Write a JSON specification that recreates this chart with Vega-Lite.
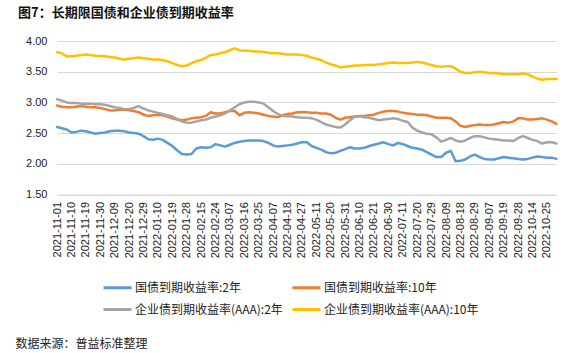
{
  "$schema": "https://vega.github.io/schema/vega-lite/v6.json",
  "width": 499.5,
  "height": 153.5,
  "autosize": {"type": "none"},
  "padding": {"left": 57, "top": 41, "right": 31.5, "bottom": 158.5},
  "background": "white",
  "title": {
    "text": "图7：长期限国债和企业债到期收益率",
    "anchor": "start",
    "frame": "group",
    "dx": -39,
    "offset": 15,
    "font": "Noto Sans CJK SC",
    "fontSize": 13,
    "fontWeight": "bold",
    "color": "#111"
  },
  "config": {
    "view": {"stroke": null},
    "font": "Liberation Sans"
  },
  "data": {
    "values": [
      {"date": "2021-11-01", "国债到期收益率:2年": 2.60, "国债到期收益率:10年": 2.95, "企业债到期收益率(AAA):2年": 3.05, "企业债到期收益率(AAA):10年": 3.82},
      {"date": "2021-11-03", "国债到期收益率:2年": 2.58, "国债到期收益率:10年": 2.93, "企业债到期收益率(AAA):2年": 3.03, "企业债到期收益率(AAA):10年": 3.80},
      {"date": "2021-11-08", "国债到期收益率:2年": 2.56, "国债到期收益率:10年": 2.92, "企业债到期收益率(AAA):2年": 3.00, "企业债到期收益率(AAA):10年": 3.75},
      {"date": "2021-11-10", "国债到期收益率:2年": 2.51, "国债到期收益率:10年": 2.92, "企业债到期收益率(AAA):2年": 2.99, "企业债到期收益率(AAA):10年": 3.75},
      {"date": "2021-11-12", "国债到期收益率:2年": 2.52, "国债到期收益率:10年": 2.93, "企业债到期收益率(AAA):2年": 2.99, "企业债到期收益率(AAA):10年": 3.76},
      {"date": "2021-11-17", "国债到期收益率:2年": 2.54, "国债到期收益率:10年": 2.94, "企业债到期收益率(AAA):2年": 2.98, "企业债到期收益率(AAA):10年": 3.77},
      {"date": "2021-11-19", "国债到期收益率:2年": 2.53, "国债到期收益率:10年": 2.93, "企业债到期收益率(AAA):2年": 2.98, "企业债到期收益率(AAA):10年": 3.78},
      {"date": "2021-11-23", "国债到期收益率:2年": 2.51, "国债到期收益率:10年": 2.92, "企业债到期收益率(AAA):2年": 2.98, "企业债到期收益率(AAA):10年": 3.77},
      {"date": "2021-11-26", "国债到期收益率:2年": 2.49, "国债到期收益率:10年": 2.92, "企业债到期收益率(AAA):2年": 2.97, "企业债到期收益率(AAA):10年": 3.76},
      {"date": "2021-11-30", "国债到期收益率:2年": 2.50, "国债到期收益率:10年": 2.91, "企业债到期收益率(AAA):2年": 2.97, "企业债到期收益率(AAA):10年": 3.755},
      {"date": "2021-12-02", "国债到期收益率:2年": 2.51, "国债到期收益率:10年": 2.89, "企业债到期收益率(AAA):2年": 2.96, "企业债到期收益率(AAA):10年": 3.75},
      {"date": "2021-12-07", "国债到期收益率:2年": 2.53, "国债到期收益率:10年": 2.87, "企业债到期收益率(AAA):2年": 2.94, "企业债到期收益率(AAA):10年": 3.74},
      {"date": "2021-12-09", "国债到期收益率:2年": 2.54, "国债到期收益率:10年": 2.87, "企业债到期收益率(AAA):2年": 2.92, "企业债到期收益率(AAA):10年": 3.73},
      {"date": "2021-12-13", "国债到期收益率:2年": 2.54, "国债到期收益率:10年": 2.88, "企业债到期收益率(AAA):2年": 2.91, "企业债到期收益率(AAA):10年": 3.71},
      {"date": "2021-12-16", "国债到期收益率:2年": 2.53, "国债到期收益率:10年": 2.88, "企业债到期收益率(AAA):2年": 2.89, "企业债到期收益率(AAA):10年": 3.70},
      {"date": "2021-12-20", "国债到期收益率:2年": 2.51, "国债到期收益率:10年": 2.87, "企业债到期收益率(AAA):2年": 2.89, "企业债到期收益率(AAA):10年": 3.71},
      {"date": "2021-12-22", "国债到期收益率:2年": 2.50, "国债到期收益率:10年": 2.86, "企业债到期收益率(AAA):2年": 2.91, "企业债到期收益率(AAA):10年": 3.72},
      {"date": "2021-12-27", "国债到期收益率:2年": 2.49, "国债到期收益率:10年": 2.84, "企业债到期收益率(AAA):2年": 2.94, "企业债到期收益率(AAA):10年": 3.73},
      {"date": "2021-12-29", "国债到期收益率:2年": 2.45, "国债到期收益率:10年": 2.80, "企业债到期收益率(AAA):2年": 2.90, "企业债到期收益率(AAA):10年": 3.72},
      {"date": "2021-12-31", "国债到期收益率:2年": 2.40, "国债到期收益率:10年": 2.78, "企业债到期收益率(AAA):2年": 2.87, "企业债到期收益率(AAA):10年": 3.71},
      {"date": "2022-01-06", "国债到期收益率:2年": 2.39, "国债到期收益率:10年": 2.79, "企业债到期收益率(AAA):2年": 2.85, "企业债到期收益率(AAA):10年": 3.70},
      {"date": "2022-01-10", "国债到期收益率:2年": 2.41, "国债到期收益率:10年": 2.80, "企业债到期收益率(AAA):2年": 2.83, "企业债到期收益率(AAA):10年": 3.70},
      {"date": "2022-01-12", "国债到期收益率:2年": 2.39, "国债到期收益率:10年": 2.79, "企业债到期收益率(AAA):2年": 2.81, "企业债到期收益率(AAA):10年": 3.69},
      {"date": "2022-01-17", "国债到期收益率:2年": 2.34, "国债到期收益率:10年": 2.77, "企业债到期收益率(AAA):2年": 2.79, "企业债到期收益率(AAA):10年": 3.67},
      {"date": "2022-01-19", "国债到期收益率:2年": 2.29, "国债到期收益率:10年": 2.74, "企业债到期收益率(AAA):2年": 2.77, "企业债到期收益率(AAA):10年": 3.64},
      {"date": "2022-01-21", "国债到期收益率:2年": 2.22, "国债到期收益率:10年": 2.72, "企业债到期收益率(AAA):2年": 2.73, "企业债到期收益率(AAA):10年": 3.61},
      {"date": "2022-01-26", "国债到期收益率:2年": 2.16, "国债到期收益率:10年": 2.71, "企业债到期收益率(AAA):2年": 2.69, "企业债到期收益率(AAA):10年": 3.59},
      {"date": "2022-01-28", "国债到期收益率:2年": 2.15, "国债到期收益率:10年": 2.72, "企业债到期收益率(AAA):2年": 2.67, "企业债到期收益率(AAA):10年": 3.60},
      {"date": "2022-02-08", "国债到期收益率:2年": 2.16, "国债到期收益率:10年": 2.74, "企业债到期收益率(AAA):2年": 2.67, "企业债到期收益率(AAA):10年": 3.64},
      {"date": "2022-02-11", "国债到期收益率:2年": 2.25, "国债到期收益率:10年": 2.75, "企业债到期收益率(AAA):2年": 2.69, "企业债到期收益率(AAA):10年": 3.67},
      {"date": "2022-02-15", "国债到期收益率:2年": 2.27, "国债到期收益率:10年": 2.76, "企业债到期收益率(AAA):2年": 2.71, "企业债到期收益率(AAA):10年": 3.69},
      {"date": "2022-02-17", "国债到期收益率:2年": 2.26, "国债到期收益率:10年": 2.78, "企业债到期收益率(AAA):2年": 2.72, "企业债到期收益率(AAA):10年": 3.73},
      {"date": "2022-02-22", "国债到期收益率:2年": 2.27, "国债到期收益率:10年": 2.84, "企业债到期收益率(AAA):2年": 2.75, "企业债到期收益率(AAA):10年": 3.77},
      {"date": "2022-02-24", "国债到期收益率:2年": 2.32, "国债到期收益率:10年": 2.82, "企业债到期收益率(AAA):2年": 2.77, "企业债到期收益率(AAA):10年": 3.78},
      {"date": "2022-02-28", "国债到期收益率:2年": 2.30, "国债到期收益率:10年": 2.82, "企业债到期收益率(AAA):2年": 2.79, "企业债到期收益率(AAA):10年": 3.80},
      {"date": "2022-03-03", "国债到期收益率:2年": 2.28, "国债到期收益率:10年": 2.84, "企业债到期收益率(AAA):2年": 2.82, "企业债到期收益率(AAA):10年": 3.82},
      {"date": "2022-03-07", "国债到期收益率:2年": 2.31, "国债到期收益率:10年": 2.86, "企业债到期收益率(AAA):2年": 2.87, "企业债到期收益率(AAA):10年": 3.85},
      {"date": "2022-03-09", "国债到期收益率:2年": 2.34, "国债到期收益率:10年": 2.86, "企业债到期收益率(AAA):2年": 2.92, "企业债到期收益率(AAA):10年": 3.88},
      {"date": "2022-03-14", "国债到期收益率:2年": 2.36, "国债到期收益率:10年": 2.79, "企业债到期收益率(AAA):2年": 2.97, "企业债到期收益率(AAA):10年": 3.85},
      {"date": "2022-03-16", "国债到期收益率:2年": 2.37, "国债到期收益率:10年": 2.83, "企业债到期收益率(AAA):2年": 3.00, "企业债到期收益率(AAA):10年": 3.84},
      {"date": "2022-03-18", "国债到期收益率:2年": 2.38, "国债到期收益率:10年": 2.84, "企业债到期收益率(AAA):2年": 3.01, "企业债到期收益率(AAA):10年": 3.84},
      {"date": "2022-03-23", "国债到期收益率:2年": 2.38, "国债到期收益率:10年": 2.83, "企业债到期收益率(AAA):2年": 3.01, "企业债到期收益率(AAA):10年": 3.83},
      {"date": "2022-03-25", "国债到期收益率:2年": 2.38, "国债到期收益率:10年": 2.82, "企业债到期收益率(AAA):2年": 3.00, "企业债到期收益率(AAA):10年": 3.83},
      {"date": "2022-03-29", "国债到期收益率:2年": 2.37, "国债到期收益率:10年": 2.80, "企业债到期收益率(AAA):2年": 2.98, "企业债到期收益率(AAA):10年": 3.82},
      {"date": "2022-04-01", "国债到期收益率:2年": 2.34, "国债到期收益率:10年": 2.78, "企业债到期收益率(AAA):2年": 2.92, "企业债到期收益率(AAA):10年": 3.81},
      {"date": "2022-04-07", "国债到期收益率:2年": 2.30, "国债到期收益率:10年": 2.77, "企业债到期收益率(AAA):2年": 2.86, "企业债到期收益率(AAA):10年": 3.80},
      {"date": "2022-04-11", "国债到期收益率:2年": 2.28, "国债到期收益率:10年": 2.76, "企业债到期收益率(AAA):2年": 2.81, "企业债到期收益率(AAA):10年": 3.80},
      {"date": "2022-04-14", "国债到期收益率:2年": 2.29, "国债到期收益率:10年": 2.79, "企业债到期收益率(AAA):2年": 2.78, "企业债到期收益率(AAA):10年": 3.79},
      {"date": "2022-04-18", "国债到期收益率:2年": 2.30, "国债到期收益率:10年": 2.81, "企业债到期收益率(AAA):2年": 2.775, "企业债到期收益率(AAA):10年": 3.78},
      {"date": "2022-04-20", "国债到期收益率:2年": 2.31, "国债到期收益率:10年": 2.82, "企业债到期收益率(AAA):2年": 2.77, "企业债到期收益率(AAA):10年": 3.78},
      {"date": "2022-04-25", "国债到期收益率:2年": 2.33, "国债到期收益率:10年": 2.84, "企业债到期收益率(AAA):2年": 2.76, "企业债到期收益率(AAA):10年": 3.78},
      {"date": "2022-04-27", "国债到期收益率:2年": 2.35, "国债到期收益率:10年": 2.845, "企业债到期收益率(AAA):2年": 2.75, "企业债到期收益率(AAA):10年": 3.77},
      {"date": "2022-04-29", "国债到期收益率:2年": 2.35, "国债到期收益率:10年": 2.84, "企业债到期收益率(AAA):2年": 2.75, "企业债到期收益率(AAA):10年": 3.76},
      {"date": "2022-05-09", "国债到期收益率:2年": 2.29, "国债到期收益率:10年": 2.83, "企业债到期收益率(AAA):2年": 2.74, "企业债到期收益率(AAA):10年": 3.73},
      {"date": "2022-05-11", "国债到期收益率:2年": 2.26, "国债到期收益率:10年": 2.83, "企业债到期收益率(AAA):2年": 2.72, "企业债到期收益率(AAA):10年": 3.71},
      {"date": "2022-05-13", "国债到期收益率:2年": 2.23, "国债到期收益率:10年": 2.82, "企业债到期收益率(AAA):2年": 2.68, "企业债到期收益率(AAA):10年": 3.69},
      {"date": "2022-05-18", "国债到期收益率:2年": 2.19, "国债到期收益率:10年": 2.82, "企业债到期收益率(AAA):2年": 2.64, "企业债到期收益率(AAA):10年": 3.65},
      {"date": "2022-05-20", "国债到期收益率:2年": 2.17, "国债到期收益率:10年": 2.80, "企业债到期收益率(AAA):2年": 2.62, "企业债到期收益率(AAA):10年": 3.62},
      {"date": "2022-05-24", "国债到期收益率:2年": 2.18, "国债到期收益率:10年": 2.75, "企业债到期收益率(AAA):2年": 2.60, "企业债到期收益率(AAA):10年": 3.60},
      {"date": "2022-05-27", "国债到期收益率:2年": 2.21, "国债到期收益率:10年": 2.72, "企业债到期收益率(AAA):2年": 2.59, "企业债到期收益率(AAA):10年": 3.57},
      {"date": "2022-05-31", "国债到期收益率:2年": 2.24, "国债到期收益率:10年": 2.75, "企业债到期收益率(AAA):2年": 2.64, "企业债到期收益率(AAA):10年": 3.58},
      {"date": "2022-06-02", "国债到期收益率:2年": 2.27, "国债到期收益率:10年": 2.76, "企业债到期收益率(AAA):2年": 2.71, "企业债到期收益率(AAA):10年": 3.59},
      {"date": "2022-06-08", "国债到期收益率:2年": 2.25, "国债到期收益率:10年": 2.77, "企业债到期收益率(AAA):2年": 2.77, "企业债到期收益率(AAA):10年": 3.60},
      {"date": "2022-06-10", "国债到期收益率:2年": 2.25, "国债到期收益率:10年": 2.78, "企业债到期收益率(AAA):2年": 2.77, "企业债到期收益率(AAA):10年": 3.60},
      {"date": "2022-06-14", "国债到期收益率:2年": 2.26, "国债到期收益率:10年": 2.78, "企业债到期收益率(AAA):2年": 2.76, "企业债到期收益率(AAA):10年": 3.61},
      {"date": "2022-06-17", "国债到期收益率:2年": 2.29, "国债到期收益率:10年": 2.79, "企业债到期收益率(AAA):2年": 2.75, "企业债到期收益率(AAA):10年": 3.61},
      {"date": "2022-06-21", "国债到期收益率:2年": 2.31, "国债到期收益率:10年": 2.80, "企业债到期收益率(AAA):2年": 2.73, "企业债到期收益率(AAA):10年": 3.61},
      {"date": "2022-06-23", "国债到期收益率:2年": 2.33, "国债到期收益率:10年": 2.83, "企业债到期收益率(AAA):2年": 2.71, "企业债到期收益率(AAA):10年": 3.62},
      {"date": "2022-06-28", "国债到期收益率:2年": 2.35, "国债到期收益率:10年": 2.85, "企业债到期收益率(AAA):2年": 2.72, "企业债到期收益率(AAA):10年": 3.63},
      {"date": "2022-06-30", "国债到期收益率:2年": 2.32, "国债到期收益率:10年": 2.86, "企业债到期收益率(AAA):2年": 2.73, "企业债到期收益率(AAA):10年": 3.64},
      {"date": "2022-07-04", "国债到期收益率:2年": 2.30, "国债到期收益率:10年": 2.86, "企业债到期收益率(AAA):2年": 2.74, "企业债到期收益率(AAA):10年": 3.65},
      {"date": "2022-07-07", "国债到期收益率:2年": 2.34, "国债到期收益率:10年": 2.85, "企业债到期收益率(AAA):2年": 2.73, "企业债到期收益率(AAA):10年": 3.64},
      {"date": "2022-07-11", "国债到期收益率:2年": 2.32, "国债到期收益率:10年": 2.83, "企业债到期收益率(AAA):2年": 2.70, "企业债到期收益率(AAA):10年": 3.64},
      {"date": "2022-07-13", "国债到期收益率:2年": 2.29, "国债到期收益率:10年": 2.82, "企业债到期收益率(AAA):2年": 2.68, "企业债到期收益率(AAA):10年": 3.64},
      {"date": "2022-07-18", "国债到期收益率:2年": 2.26, "国债到期收益率:10年": 2.81, "企业债到期收益率(AAA):2年": 2.59, "企业债到期收益率(AAA):10年": 3.65},
      {"date": "2022-07-20", "国债到期收益率:2年": 2.25, "国债到期收益率:10年": 2.80, "企业债到期收益率(AAA):2年": 2.54, "企业债到期收益率(AAA):10年": 3.66},
      {"date": "2022-07-22", "国债到期收益率:2年": 2.23, "国债到期收益率:10年": 2.80, "企业债到期收益率(AAA):2年": 2.51, "企业债到期收益率(AAA):10年": 3.65},
      {"date": "2022-07-27", "国债到期收益率:2年": 2.19, "国债到期收益率:10年": 2.79, "企业债到期收益率(AAA):2年": 2.49, "企业债到期收益率(AAA):10年": 3.63},
      {"date": "2022-07-29", "国债到期收益率:2年": 2.15, "国债到期收益率:10年": 2.77, "企业债到期收益率(AAA):2年": 2.48, "企业债到期收益率(AAA):10年": 3.61},
      {"date": "2022-08-02", "国债到期收益率:2年": 2.11, "国债到期收益率:10年": 2.75, "企业债到期收益率(AAA):2年": 2.43, "企业债到期收益率(AAA):10年": 3.59},
      {"date": "2022-08-05", "国债到期收益率:2年": 2.11, "国债到期收益率:10年": 2.75, "企业债到期收益率(AAA):2年": 2.36, "企业债到期收益率(AAA):10年": 3.58},
      {"date": "2022-08-09", "国债到期收益率:2年": 2.18, "国债到期收益率:10年": 2.75, "企业债到期收益率(AAA):2年": 2.39, "企业债到期收益率(AAA):10年": 3.59},
      {"date": "2022-08-11", "国债到期收益率:2年": 2.21, "国债到期收益率:10年": 2.74, "企业债到期收益率(AAA):2年": 2.42, "企业债到期收益率(AAA):10年": 3.59},
      {"date": "2022-08-16", "国债到期收益率:2年": 2.04, "国债到期收益率:10年": 2.69, "企业债到期收益率(AAA):2年": 2.38, "企业债到期收益率(AAA):10年": 3.55},
      {"date": "2022-08-18", "国债到期收益率:2年": 2.05, "国债到期收益率:10年": 2.62, "企业债到期收益率(AAA):2年": 2.36, "企业债到期收益率(AAA):10年": 3.50},
      {"date": "2022-08-22", "国债到期收益率:2年": 2.07, "国债到期收益率:10年": 2.60, "企业债到期收益率(AAA):2年": 2.38, "企业债到期收益率(AAA):10年": 3.48},
      {"date": "2022-08-25", "国债到期收益率:2年": 2.12, "国债到期收益率:10年": 2.62, "企业债到期收益率(AAA):2年": 2.42, "企业债到期收益率(AAA):10年": 3.48},
      {"date": "2022-08-29", "国债到期收益率:2年": 2.15, "国债到期收益率:10年": 2.63, "企业债到期收益率(AAA):2年": 2.45, "企业债到期收益率(AAA):10年": 3.49},
      {"date": "2022-08-31", "国债到期收益率:2年": 2.11, "国债到期收益率:10年": 2.64, "企业债到期收益率(AAA):2年": 2.45, "企业债到期收益率(AAA):10年": 3.50},
      {"date": "2022-09-05", "国债到期收益率:2年": 2.08, "国债到期收益率:10年": 2.63, "企业债到期收益率(AAA):2年": 2.43, "企业债到期收益率(AAA):10年": 3.49},
      {"date": "2022-09-07", "国债到期收益率:2年": 2.07, "国债到期收益率:10年": 2.63, "企业债到期收益率(AAA):2年": 2.41, "企业债到期收益率(AAA):10年": 3.48},
      {"date": "2022-09-09", "国债到期收益率:2年": 2.07, "国债到期收益率:10年": 2.64, "企业债到期收益率(AAA):2年": 2.40, "企业债到期收益率(AAA):10年": 3.48},
      {"date": "2022-09-15", "国债到期收益率:2年": 2.09, "国债到期收益率:10年": 2.66, "企业债到期收益率(AAA):2年": 2.39, "企业债到期收益率(AAA):10年": 3.47},
      {"date": "2022-09-19", "国债到期收益率:2年": 2.11, "国债到期收益率:10年": 2.68, "企业债到期收益率(AAA):2年": 2.38, "企业债到期收益率(AAA):10年": 3.46},
      {"date": "2022-09-21", "国债到期收益率:2年": 2.10, "国债到期收益率:10年": 2.67, "企业债到期收益率(AAA):2年": 2.38, "企业债到期收益率(AAA):10年": 3.46},
      {"date": "2022-09-26", "国债到期收益率:2年": 2.09, "国债到期收益率:10年": 2.69, "企业债到期收益率(AAA):2年": 2.37, "企业债到期收益率(AAA):10年": 3.46},
      {"date": "2022-09-28", "国债到期收益率:2年": 2.08, "国债到期收益率:10年": 2.74, "企业债到期收益率(AAA):2年": 2.42, "企业债到期收益率(AAA):10年": 3.46},
      {"date": "2022-09-30", "国债到期收益率:2年": 2.07, "国债到期收益率:10年": 2.74, "企业债到期收益率(AAA):2年": 2.45, "企业债到期收益率(AAA):10年": 3.47},
      {"date": "2022-10-12", "国债到期收益率:2年": 2.08, "国债到期收益率:10年": 2.72, "企业债到期收益率(AAA):2年": 2.42, "企业债到期收益率(AAA):10年": 3.46},
      {"date": "2022-10-14", "国债到期收益率:2年": 2.10, "国债到期收益率:10年": 2.72, "企业债到期收益率(AAA):2年": 2.39, "企业债到期收益率(AAA):10年": 3.42},
      {"date": "2022-10-18", "国债到期收益率:2年": 2.12, "国债到期收益率:10年": 2.73, "企业债到期收益率(AAA):2年": 2.37, "企业债到期收益率(AAA):10年": 3.39},
      {"date": "2022-10-21", "国债到期收益率:2年": 2.11, "国债到期收益率:10年": 2.74, "企业债到期收益率(AAA):2年": 2.33, "企业债到期收益率(AAA):10年": 3.37},
      {"date": "2022-10-25", "国债到期收益率:2年": 2.10, "国债到期收益率:10年": 2.72, "企业债到期收益率(AAA):2年": 2.35, "企业债到期收益率(AAA):10年": 3.38},
      {"date": "2022-10-27", "国债到期收益率:2年": 2.10, "国债到期收益率:10年": 2.69, "企业债到期收益率(AAA):2年": 2.35, "企业债到期收益率(AAA):10年": 3.38},
      {"date": "2022-10-31", "国债到期收益率:2年": 2.08, "国债到期收益率:10年": 2.65, "企业债到期收益率(AAA):2年": 2.33, "企业债到期收益率(AAA):10年": 3.38}
    ]
  },
  "transform": [
    {"fold": ["国债到期收益率:2年", "国债到期收益率:10年", "企业债到期收益率(AAA):2年", "企业债到期收益率(AAA):10年"], "as": ["series", "value"]}
  ],
  "mark": {"type": "line", "strokeWidth": 2.5, "strokeJoin": "round", "strokeCap": "round"},
  "encoding": {
    "x": {
      "field": "date",
      "type": "ordinal",
      "scale": {"type": "point", "padding": 0},
      "axis": {
        "values": ["2021-11-01", "2021-11-10", "2021-11-19", "2021-11-30", "2021-12-09", "2021-12-20", "2021-12-29", "2022-01-10", "2022-01-19", "2022-01-28", "2022-02-15", "2022-02-24", "2022-03-07", "2022-03-16", "2022-03-25", "2022-04-07", "2022-04-18", "2022-04-27", "2022-05-11", "2022-05-20", "2022-05-31", "2022-06-10", "2022-06-21", "2022-06-30", "2022-07-11", "2022-07-20", "2022-07-29", "2022-08-09", "2022-08-18", "2022-08-29", "2022-09-07", "2022-09-19", "2022-09-28", "2022-10-14", "2022-10-25"],
        "labelAngle": -90,
        "labelFont": "Liberation Sans",
        "labelFontSize": 11,
        "labelColor": "#222",
        "labelPadding": 7,
        "labelOverlap": false,
        "ticks": false,
        "grid": false,
        "domainColor": "#d9d9d9",
        "domainWidth": 1,
        "title": "数据来源：普益标准整理",
        "titleX": -42,
        "titleY": 148.5,
        "titleAlign": "left",
        "titleBaseline": "middle",
        "titleFont": "Noto Sans CJK SC",
        "titleFontSize": 12,
        "titleFontWeight": "normal",
        "titleColor": "#222"
      }
    },
    "y": {
      "field": "value",
      "type": "quantitative",
      "scale": {"domain": [1.5, 4.0], "nice": false, "zero": false},
      "axis": {
        "values": [1.5, 2.0, 2.5, 3.0, 3.5, 4.0],
        "format": ".2f",
        "title": null,
        "labelFont": "Liberation Sans",
        "labelFontSize": 11,
        "labelColor": "#222",
        "labelPadding": 10,
        "ticks": false,
        "domain": false,
        "grid": true,
        "gridColor": "#d9d9d9",
        "gridWidth": 1
      }
    },
    "color": {
      "field": "series",
      "type": "nominal",
      "scale": {
        "domain": ["国债到期收益率:2年", "国债到期收益率:10年", "企业债到期收益率(AAA):2年", "企业债到期收益率(AAA):10年"],
        "range": ["#5B9BD5", "#ED7D31", "#A5A5A5", "#FFC000"]
      },
      "legend": {
        "orient": "none",
        "legendX": 45,
        "legendY": 231,
        "direction": "horizontal",
        "columns": 2,
        "title": null,
        "symbolType": "stroke",
        "symbolSize": 784,
        "symbolStrokeWidth": 3,
        "labelFont": "Noto Sans CJK SC",
        "labelFontSize": 12,
        "labelColor": "#222",
        "labelOffset": 2,
        "labelLimit": 300,
        "columnPadding": 3,
        "rowPadding": -2
      }
    }
  }
}
